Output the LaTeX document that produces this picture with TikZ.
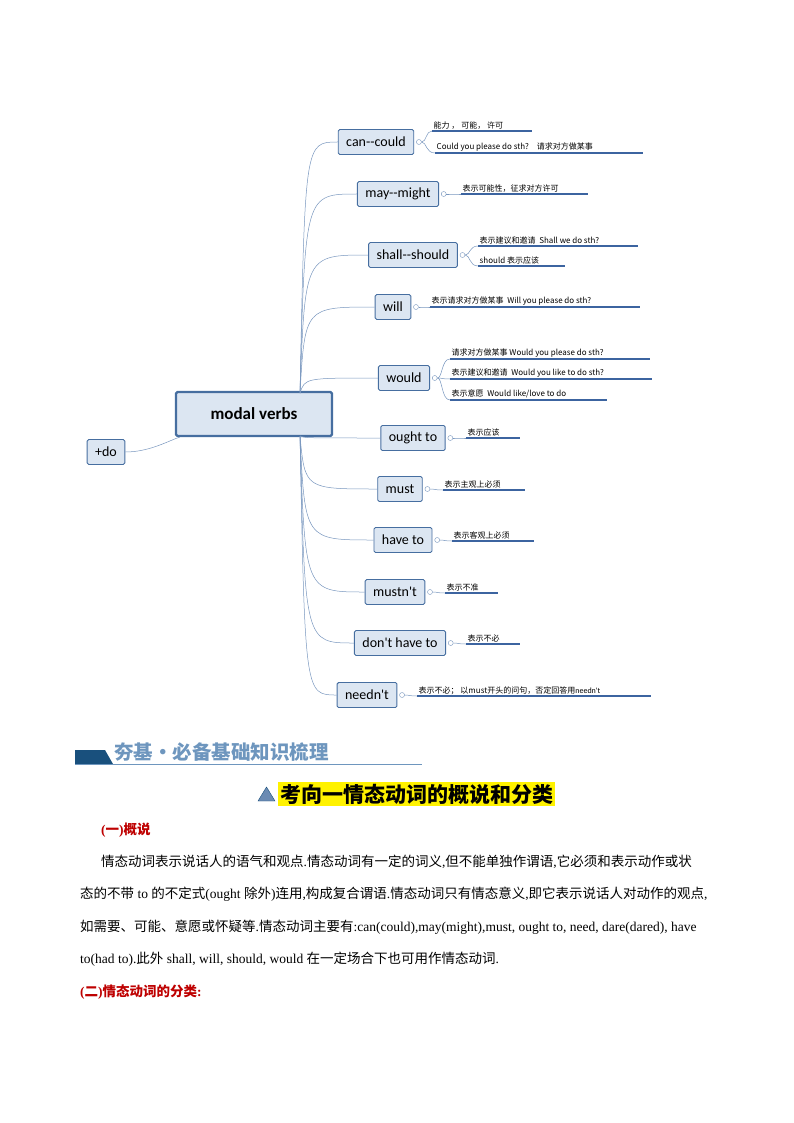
\documentclass[tikz,border=0pt]{standalone}
\usepackage{fontspec}
\setmainfont{Noto Sans CJK SC}
\newfontfamily\latin{Carlito}
\newfontfamily\en{Liberation Serif}
\usepackage{xcolor}
\usetikzlibrary{positioning, calc}
\definecolor{mvBlue}{RGB}{70, 110, 160}
\definecolor{mvLine}{RGB}{60, 100, 160}
\definecolor{mvFill}{RGB}{220, 230, 242}
\definecolor{mvCurve}{RGB}{120, 150, 190}
\definecolor{mvHead}{RGB}{25, 80, 125}
\definecolor{mvTitle}{RGB}{110, 150, 190}
\definecolor{mvRed}{RGB}{190, 0, 0}
\tikzset{
    topic/.style={
        rectangle,
        rounded corners=1.5pt,
        draw=mvBlue,
        line width=0.9pt,
        fill=mvFill,
        font=\latin\fontsize{14}{15}\selectfont,
        minimum height=25pt,
        inner xsep=8pt
    },
    central/.style={
        topic,
        line width=2.2pt,
        font=\latin\fontsize{17}{18}\selectfont\bfseries,
        minimum width=156pt,
        minimum height=44pt
    },
    branch/.style={
        draw=mvCurve,
        line width=0.5pt
    },
    knob/.style={
        circle,
        draw=mvCurve,
        fill=white,
        inner sep=0pt,
        minimum size=5pt
    },
    leaf/.style={
        anchor=south west,
        font=\fontsize{8}{9}\selectfont,
        inner sep=1.5pt
    },
    leafline/.style={
        draw=mvLine,
        line width=1.1pt
    },
    body/.style={
        anchor=west,
        font=\fontsize{13.5}{14}\selectfont,
        inner sep=0pt,
        text width=642pt,
        align=justify
    }
}
% leaf: knob, y of line, x start, x end, text
\newcommand{\mvleaf}[5]{
  \draw[branch] (#1.east) .. controls ($(#1.east)+(5,0)$) and ($(#1.east|-0,#2)+(4,0)$) .. (#3,#2);
  \draw[leafline] (#3,#2) -- (#4,#2);
  \node[leaf] at (#3,#2) {#5};
}
\begin{document}
\begin{tikzpicture}[x=1pt, y=-1pt]
  \useasboundingbox (0,0) rectangle (794,1123);

  % Central topic
  \node[central] (mv) at (254,414) {modal verbs};
  \node[topic] (do) at (106,452) {+do};
  \draw[branch] ($(mv.south west)+(5,0)$) .. controls (170,440) and (150,452) .. (do.east);

  % Main topics
  \foreach \name/\x/\y/\txt in {
      can/376/142/can-{}-could, may/398/194/may-{}-might, shall/413/255/shall-{}-should,
      will/393/307/will, would/404/378/would, ought/413/438/ought to,
      must/400/489/must, have/403/540/have to, mustnt/395/592/mustn't,
      dont/400/643/don't have to, neednt/367/695/needn't}{
    \node[topic] (\name) at (\x,\y) {\txt};
    \node[knob, right=2pt of \name] (\name k) {};
  }
  \foreach \name in {can, may, shall, will, would}
    \draw[branch] (300,393) .. controls (305,0 |- \name.west) .. (\name.west);
  \foreach \name in {ought, must, have, mustnt, dont, neednt}
    \draw[branch] (300,436) .. controls (305,0 |- \name.west) .. (\name.west);

  % Leaves
  \mvleaf{cank}{131}{432}{532}{能力 ， 可能， 许可}
  \mvleaf{cank}{153}{435}{643}{Could you please do sth?\quad 请求对方做某事}
  \mvleaf{mayk}{194}{461}{588}{表示可能性，征求对方许可}
  \mvleaf{shallk}{246}{478}{638}{表示建议和邀请\ \ Shall we do sth?}
  \mvleaf{shallk}{266}{478}{565}{should 表示应该}
  \mvleaf{willk}{307}{430}{640}{表示请求对方做某事\ \ Will you please do sth?}
  \mvleaf{wouldk}{359}{450}{650}{请求对方做某事 Would you please do sth?}
  \mvleaf{wouldk}{379}{450}{652}{表示建议和邀请\ \ Would you like to do sth?}
  \mvleaf{wouldk}{400}{450}{607}{表示意愿\ \ Would like/love to do}
  \mvleaf{oughtk}{438}{466}{520}{表示应该}
  \mvleaf{mustk}{490}{443}{525}{表示主观上必须}
  \mvleaf{havek}{541}{452}{534}{表示客观上必须}
  \mvleaf{mustntk}{593}{445}{498}{表示不准}
  \mvleaf{dontk}{644}{466}{520}{表示不必}
  \mvleaf{needntk}{696}{417}{651}{表示不必； 以must开头的问句，否定回答用{\latin needn't}}

  % Section banner
  \fill[mvHead] (75,750) -- (105,750) -- (113,764) -- (75,764) -- cycle;
  \draw[mvTitle, line width=0.6pt] (75,764) -- (422,764);
  \node[anchor=south west, inner sep=0pt, text=mvTitle, font=\fontsize{19.5}{20}\selectfont\bfseries] (banner) at (114,762) {夯基·必备基础知识梳理};

  % Heading
  \node[fill=yellow, anchor=west, inner sep=2pt, font=\fontsize{21}{22}\selectfont\bfseries] (head) at (278,794) {考向一情态动词的概说和分类};
  \draw[fill=mvBlue!80, draw=mvHead] (258,801) -- (275,801) -- (266.5,787) -- cycle;

  % Text
  \node[body, text=mvRed, font=\fontsize{13.5}{14}\selectfont\bfseries] (s1) at (101,830) {{\en(}一{\en)}概说};
  \node[body, text width=621pt] (p1) at (101,862) {\parfillskip=0pt 情态动词表示说话人的语气和观点{\en.}情态动词有一定的词义{\en,}但不能单独作谓语{\en,}它必须和表示动作或状};
  \node[body] (p2) at (80,894) {\parfillskip=0pt 态的不带{\en\ to }的不定式{\en(ought }除外{\en)}连用{\en,}构成复合谓语{\en.}情态动词只有情态意义{\en,}即它表示说话人对动作的观点{\en,}};
  \node[body] (p3) at (80,927) {\parfillskip=0pt 如需要、可能、意愿或怀疑等{\en.}情态动词主要有{\en:can(could),may(might),must, ought to, need, dare(dared), have}};
  \node[body] (p4) at (80,959) {{\en to(had to).}此外{\en\ shall, will, should, would }在一定场合下也可用作情态动词{\en.}};
  \node[body, text=mvRed, font=\fontsize{13.5}{14}\selectfont\bfseries] (s2) at (80,992) {{\en(}二{\en)}情态动词的分类{\en:}};
\end{tikzpicture}
\end{document}
